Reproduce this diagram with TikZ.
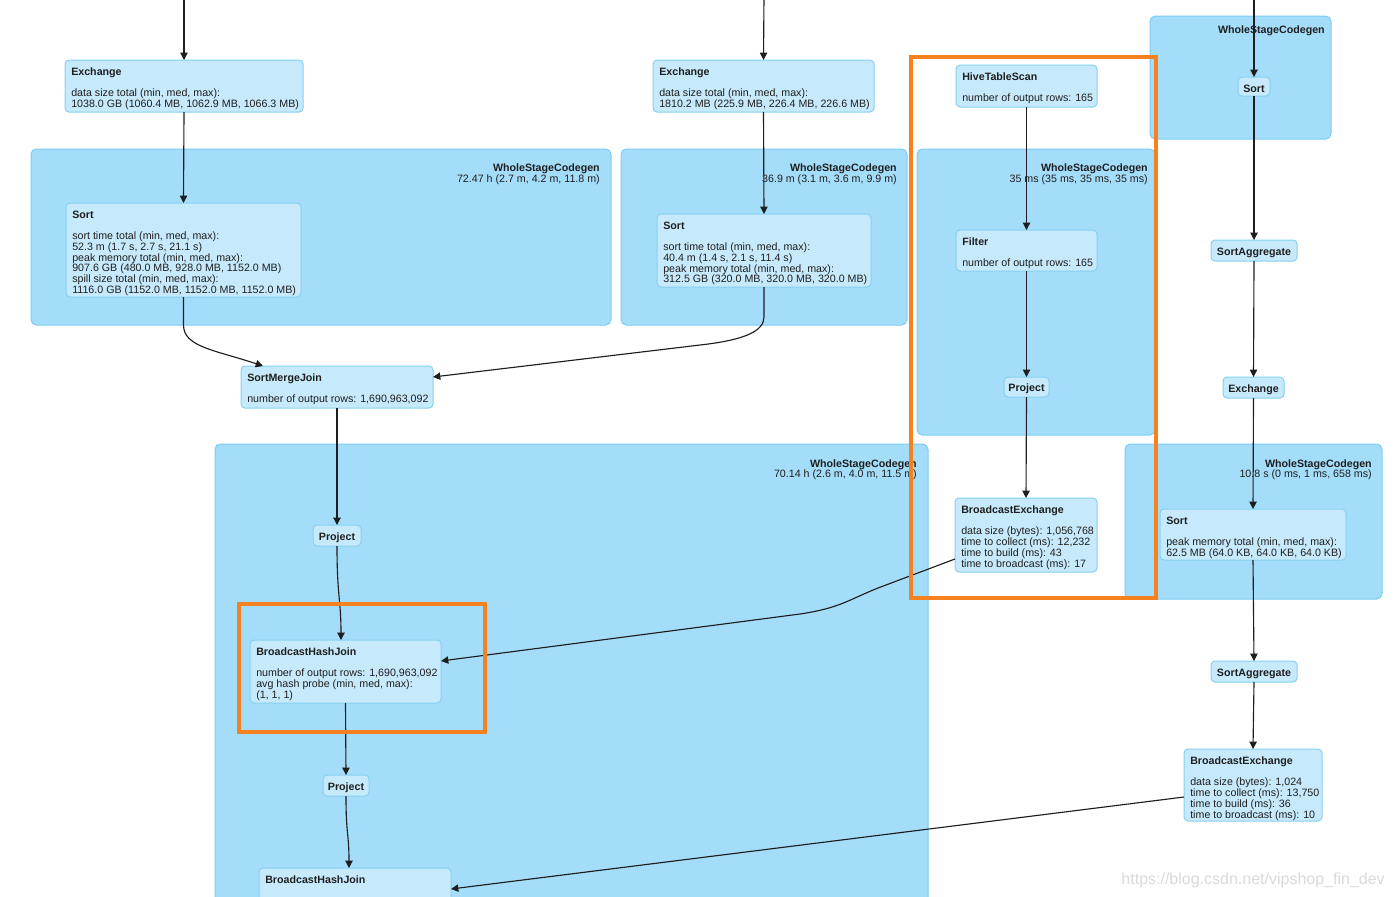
\documentclass[tikz,border=0pt]{standalone}
\usepackage{fontspec}
\setmainfont{Liberation Sans}
\usetikzlibrary{fit,arrows.meta}
\definecolor{clfill}{HTML}{A4DDFA}
\definecolor{cldraw}{HTML}{7ECCF2}
\definecolor{opfill}{HTML}{C6EAFB}
\definecolor{opdraw}{HTML}{86D0F2}
\definecolor{hl}{HTML}{F5821F}
\definecolor{edgec}{HTML}{1E1E1E}
\definecolor{wm}{HTML}{DADADA}
\tikzset{
 cluster/.style={draw=cldraw, fill=clfill, line width=0.75pt, rounded corners=4pt, inner sep=0pt, outer sep=0pt},
 opnode/.style={draw=opdraw, fill=opfill, line width=0.75pt, rounded corners=3pt, inner sep=0pt, outer sep=0pt},
 optext/.style={anchor=north west, inner sep=0pt, align=left, font=\fontsize{8}{8.2}\selectfont, text=black!88},
 cltext/.style={anchor=north east, inner sep=0pt, align=right, font=\fontsize{8}{7.6}\selectfont, text=black!88},
 sotext/.style={inner sep=0pt, font=\fontsize{8}{8.2}\selectfont\bfseries, text=black!88},
 hlbox/.style={draw=hl, line width=3pt, inner sep=0pt, outer sep=0pt},
 flow/.style={draw=edgec, line width=0.85pt, -{Triangle[length=5.5pt,width=5.5pt]}},
}
\newcommand{\opbox}[6]{\node[opnode, fit={(#2,#3) (#4,#5)}] (#1) {};
  \node[optext] (#1-t) at ([shift={(6,7.5)}]#1.north west) {#6};}
\newcommand{\smallop}[6]{\node[opnode, fit={(#2,#3) (#4,#5)}] (#1) {};
  \node[sotext] (#1-t) at ([shift={(0,2)}]#1.center) {#6};}
\newcommand{\clusterbox}[8]{\node[cluster, fit={(#2,#3) (#4,#5)}] (#1) {};
  \node[cltext] (#1-t) at ([shift={(#6,#7)}]#1.north east) {#8};}
\begin{document}
\begin{tikzpicture}[x=0.75pt,y=-0.75pt]
\useasboundingbox (0,0) rectangle (1395,896);
\fill[white] (0,0) rectangle (1395,896);
% clusters
\clusterbox{wsc1}{31}{149}{611}{325}{-11}{15}{\textbf{WholeStageCodegen}\\72.47 h (2.7 m, 4.2 m, 11.8 m)}
\clusterbox{wsc2}{621}{149}{907}{325}{-10}{15}{\textbf{WholeStageCodegen}\\36.9 m (3.1 m, 3.6 m, 9.9 m)}
\clusterbox{wsc3}{917}{149}{1155}{435}{-7}{15}{\textbf{WholeStageCodegen}\\35 ms (35 ms, 35 ms, 35 ms)}
\clusterbox{wsc4}{1150}{16}{1331}{139}{-6}{10}{\textbf{WholeStageCodegen}}
\clusterbox{wsc5}{215}{444}{928}{912}{-11}{15}{\textbf{WholeStageCodegen}\\70.14 h (2.6 m, 4.0 m, 11.5 m)}
\clusterbox{wsc6}{1125}{444}{1382}{599}{-10}{15}{\textbf{WholeStageCodegen}\\10.8 s (0 ms, 1 ms, 658 ms)}
% operator nodes
\opbox{ex1}{65}{60}{303}{112}{\textbf{Exchange}\\[7.5pt]data size total (min, med, max):\\1038.0 GB (1060.4 MB, 1062.9 MB, 1066.3 MB)}
\opbox{ex2}{653}{60}{874}{112}{\textbf{Exchange}\\[7.5pt]data size total (min, med, max):\\1810.2 MB (225.9 MB, 226.4 MB, 226.6 MB)}
\opbox{sort1}{66}{203}{301}{297}{\textbf{Sort}\\[7.5pt]sort time total (min, med, max):\\52.3 m (1.7 s, 2.7 s, 21.1 s)\\peak memory total (min, med, max):\\907.6 GB (480.0 MB, 928.0 MB, 1152.0 MB)\\spill size total (min, med, max):\\1116.0 GB (1152.0 MB, 1152.0 MB, 1152.0 MB)}
\opbox{sort2}{657}{214}{871}{287}{\textbf{Sort}\\[7.5pt]sort time total (min, med, max):\\40.4 m (1.4 s, 2.1 s, 11.4 s)\\peak memory total (min, med, max):\\312.5 GB (320.0 MB, 320.0 MB, 320.0 MB)}
\opbox{hts}{956}{65}{1097}{107}{\textbf{HiveTableScan}\\[7.5pt]number of output rows: 165}
\opbox{filter}{956}{230}{1097}{271}{\textbf{Filter}\\[7.5pt]number of output rows: 165}
\opbox{bex1}{955}{498}{1097}{572}{\textbf{BroadcastExchange}\\[7.5pt]data size (bytes): 1,056,768\\time to collect (ms): 12,232\\time to build (ms): 43\\time to broadcast (ms): 17}
\opbox{sort3}{1160}{509}{1346}{560}{\textbf{Sort}\\[7.5pt]peak memory total (min, med, max):\\62.5 MB (64.0 KB, 64.0 KB, 64.0 KB)}
\opbox{bex2}{1184}{749}{1322}{821}{\textbf{BroadcastExchange}\\[7.5pt]data size (bytes): 1,024\\time to collect (ms): 13,750\\time to build (ms): 36\\time to broadcast (ms): 10}
\opbox{smj}{241}{366}{433}{408}{\textbf{SortMergeJoin}\\[7.5pt]number of output rows: 1,690,963,092}
\opbox{bhj1}{250}{640}{441}{703}{\textbf{BroadcastHashJoin}\\[7.5pt]number of output rows: 1,690,963,092\\avg hash probe (min, med, max):\\(1, 1, 1)}
\opbox{bhj2}{259}{868}{451}{915}{\textbf{BroadcastHashJoin}}
\smallop{sorta}{1238}{77}{1270}{96}{Sort}
\smallop{sagg1}{1211}{240}{1297}{261}{SortAggregate}
\smallop{exs}{1223}{377}{1284}{398}{Exchange}
\smallop{sagg2}{1211}{661}{1297}{682}{SortAggregate}
\smallop{proj0}{1004}{377}{1049}{397}{Project}
\smallop{proj1}{313}{525}{361}{546}{Project}
\smallop{proj2}{323}{775}{369}{796}{Project}
% incoming edges from above the picture
\coordinate (in1) at (184,-4);
\coordinate (in2) at (764,-4);
\coordinate (in3) at (1254,-4);
\draw[flow] (in1) -- (ex1.north);
\draw[flow] (in2) -- (ex2.north);
\draw[flow] (in3) -- (sorta.north);
% edges
\draw[flow] (ex1.south) -- (sort1.north);
\draw[flow] (ex2.south) -- (sort2.north);
\draw[flow] (sort1.south) -- ++(0,28) .. controls +(0,22) and (215,350) .. ([shift={(22,0)}]smj.north west);
\draw[flow] (sort2.south) -- ++(0,30) .. controls +(0,14) and (745,340) .. (700,345) -- ([shift={(0,11)}]smj.north east);
\draw[flow] (hts.south) -- (filter.north);
\draw[flow] (filter.south) -- (proj0.north);
\draw[flow] (proj0.south) -- (bex1.north);
\draw[flow] (sorta.south) -- (sagg1.north);
\draw[flow] (sagg1.south) -- (exs.north);
\draw[flow] (exs.south) -- (sort3.north);
\draw[flow] (sort3.south) -- (sagg2.north);
\draw[flow] (sagg2.south) -- (bex2.north);
\draw[flow] (smj.south) -- (proj1.north);
\draw[flow] (proj1.south) .. controls +(0,50) and +(0,-40) .. ([shift={(-4.5,0)}]bhj1.north);
\draw[flow] (bhj1.south) -- (proj2.north);
\draw[flow] (proj2.south) .. controls +(0,40) and +(0,-35) .. ([shift={(-6,0)}]bhj2.north);
\draw[flow] ([shift={(0,61)}]bex1.north west) -- (878,588) .. controls (848,600) and (840,608) .. (800,614) -- ([shift={(0,21)}]bhj1.north east);
\draw[flow] ([shift={(0,48)}]bex2.north west) -- ([shift={(0,21)}]bhj2.north east);
% highlight boxes
\node[hlbox, fit={(911,57) (1156,598)}] (hl1) {};
\node[hlbox, fit={(239,604) (485,732)}] (hl2) {};
% watermark
\node[anchor=base east, inner sep=0pt, font=\fontsize{12}{12}\selectfont, text=wm] (wmark) at (1385,884) {https://blog.csdn.net/vipshop\_fin\_dev};
\end{tikzpicture}
\end{document}
